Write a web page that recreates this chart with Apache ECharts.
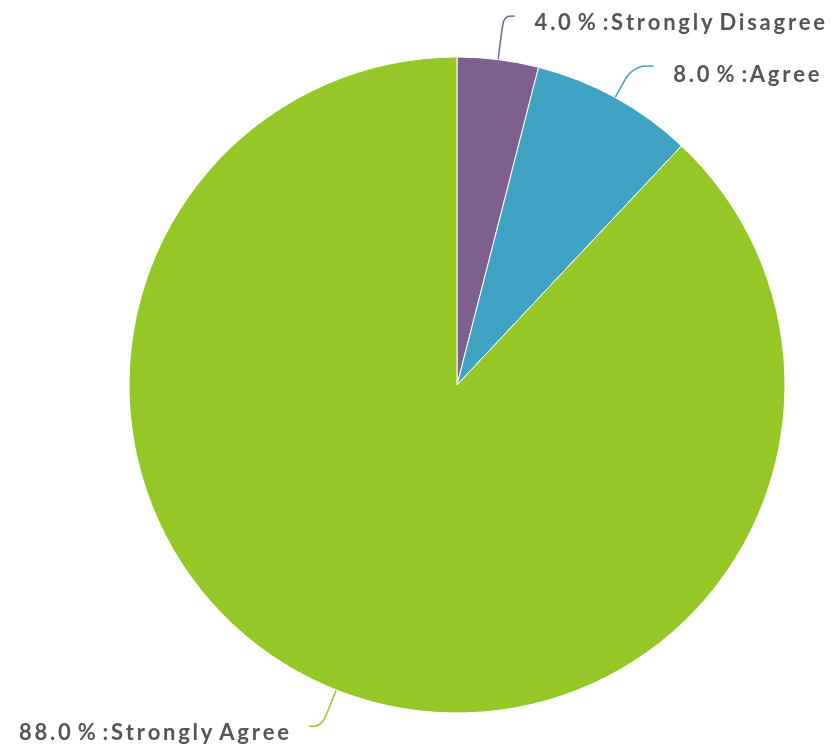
<!DOCTYPE html>
<html><head><meta charset="utf-8">
<script src="https://cdn.jsdelivr.net/npm/echarts@6/dist/echarts.min.js"></script>
<style>html,body{margin:0;padding:0;background:#fff}#c{width:834px;height:750px}</style>
</head><body><div id="c"></div>
<script>
const categories = ['Strongly Disagree', 'Agree', 'Strongly Agree'];
const values = [4.0, 8.0, 88.0];
const colors = ['#7d6090', '#40a3c3', '#95c826'];
const lineLen = [44, 36, 39];
const lineLen2 = [11, 21, 13];
const labelDrop = [14, 18, 13];
const spaced = s => s.split('').map(ch => ch === ' ' ? '\u200A' : ch).join('\u2009');
const chart = echarts.init(document.getElementById('c'));
chart.setOption({
  animation: false,
  series: [{
    type: 'pie',
    center: [457, 385],
    radius: 328,
    startAngle: 90,
    clockwise: true,
    avoidLabelOverlap: false,
    itemStyle: { borderColor: '#fff', borderWidth: 1 },
    label: {
      show: true,
      position: 'outside',
      formatter: p => '{s|\u200A}\n{t|' + spaced(p.value.toFixed(1) + ' % :' + p.name) + '}',
      distanceToLabelLine: 20
    },
    labelLine: { show: true, smooth: 0.4, length: 36, length2: 14, lineStyle: { width: 1.5 } },
    data: categories.map((c, i) => ({
      name: c, value: values[i],
      itemStyle: { color: colors[i] },
      label: {
        rich: {
          s: { lineHeight: labelDrop[i], fontSize: 4, color: 'rgba(0,0,0,0)' },
          t: { fontFamily: 'Lato', fontWeight: 'bold', fontSize: 22, lineHeight: 26, color: '#555' }
        }
      },
      labelLine: { length: lineLen[i], length2: lineLen2[i] }
    }))
  }]
});
</script></body></html>
